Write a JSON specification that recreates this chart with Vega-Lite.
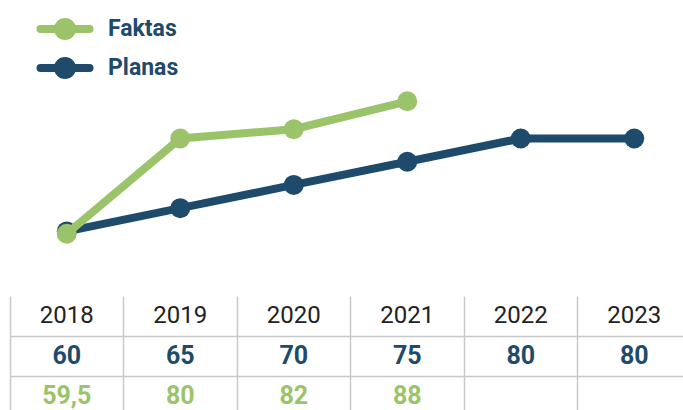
{
  "$schema": "https://vega.github.io/schema/vega-lite/v6.json",
  "padding": {"left": 10, "top": 0, "right": 0, "bottom": 0},
  "spacing": 0,
  "config": {"view": {"stroke": null}, "font": "Roboto"},
  "datasets": {
    "lines": [
      {"year": "2018", "series": "Planas", "value": 60},
      {"year": "2019", "series": "Planas", "value": 65},
      {"year": "2020", "series": "Planas", "value": 70},
      {"year": "2021", "series": "Planas", "value": 75},
      {"year": "2022", "series": "Planas", "value": 80},
      {"year": "2023", "series": "Planas", "value": 80},
      {"year": "2018", "series": "Faktas", "value": 59.5},
      {"year": "2019", "series": "Faktas", "value": 80},
      {"year": "2020", "series": "Faktas", "value": 82},
      {"year": "2021", "series": "Faktas", "value": 88}
    ],
    "table": [
      {"year": "2018", "row": "Metai", "label": "2018"},
      {"year": "2019", "row": "Metai", "label": "2019"},
      {"year": "2020", "row": "Metai", "label": "2020"},
      {"year": "2021", "row": "Metai", "label": "2021"},
      {"year": "2022", "row": "Metai", "label": "2022"},
      {"year": "2023", "row": "Metai", "label": "2023"},
      {"year": "2018", "row": "Planas", "label": "60"},
      {"year": "2019", "row": "Planas", "label": "65"},
      {"year": "2020", "row": "Planas", "label": "70"},
      {"year": "2021", "row": "Planas", "label": "75"},
      {"year": "2022", "row": "Planas", "label": "80"},
      {"year": "2023", "row": "Planas", "label": "80"},
      {"year": "2018", "row": "Faktas", "label": "59,5"},
      {"year": "2019", "row": "Faktas", "label": "80"},
      {"year": "2020", "row": "Faktas", "label": "82"},
      {"year": "2021", "row": "Faktas", "label": "88"}
    ]
  },
  "vconcat": [
    {
      "width": 681,
      "height": 296,
      "data": {"name": "lines"},
      "encoding": {
        "x": {"field": "year", "type": "ordinal", "scale": {"type": "point", "padding": 0.5, "domain": ["2018","2019","2020","2021","2022","2023"]}, "axis": null},
        "y": {"field": "value", "type": "quantitative", "scale": {"domain": [46.1, 109.8], "zero": false, "nice": false}, "axis": null},
        "color": {
          "field": "series", "type": "nominal",
          "scale": {"domain": ["Faktas", "Planas"], "range": ["#9bc46a", "#1e4a6b"]},
          "legend": {
            "title": null,
            "orient": "none",
            "legendX": 40,
            "legendY": 14,
            "padding": 0,
            "rowPadding": -9,
            "symbolType": "M-2.23,0H2.23M0.64,0A0.64,0.64 0 1,1 -0.64,0A0.64,0.64 0 1,1 0.64,0Z",
            "symbolSize": 484,
            "symbolStrokeWidth": 8,
            "labelOffset": 28,
            "labelFont": "Roboto",
            "labelFontWeight": "bold",
            "labelFontSize": 23,
            "labelColor": "#1e4a6b",
            "labelLimit": 300,
            "encode": {
              "symbols": {
                "update": {
                  "fill": {"scale": "color", "field": "value"},
                  "stroke": {"scale": "color", "field": "value"},
                  "strokeWidth": {"value": 8},
                  "strokeCap": {"value": "round"},
                  "opacity": {"value": 1}
                }
              }
            }
          }
        }
      },
      "layer": [
        {"transform": [{"filter": "datum.series === 'Planas'"}], "mark": {"type": "line", "strokeWidth": 8}},
        {"transform": [{"filter": "datum.series === 'Planas'"}], "mark": {"type": "point", "filled": true, "opacity": 1, "size": 400, "shape": "circle"}},
        {"transform": [{"filter": "datum.series === 'Faktas'"}], "mark": {"type": "line", "strokeWidth": 8}},
        {"transform": [{"filter": "datum.series === 'Faktas'"}], "mark": {"type": "point", "filled": true, "opacity": 1, "size": 400, "shape": "circle"}}
      ]
    },
    {
      "width": 681,
      "height": 120,
      "data": {"name": "table"},
      "encoding": {
        "x": {"field": "year", "type": "ordinal", "scale": {"type": "band", "paddingInner": 0, "paddingOuter": 0, "domain": ["2018","2019","2020","2021","2022","2023"]},
              "axis": {"labels": false, "ticks": false, "domain": false, "title": null, "grid": true, "bandPosition": 0, "gridColor": "#c8c8c8", "gridWidth": 1.5}},
        "y": {"field": "row", "type": "ordinal", "scale": {"type": "band", "paddingInner": 0, "paddingOuter": 0, "domain": ["Metai", "Planas", "Faktas"]},
              "axis": {"labels": false, "ticks": false, "domain": false, "title": null, "grid": true, "bandPosition": 0, "values": ["Planas", "Faktas"], "gridColor": "#c8c8c8", "gridWidth": 1.5}},
        "text": {"field": "label", "type": "nominal"},
        "color": {"field": "row", "type": "nominal", "scale": {"domain": ["Metai", "Planas", "Faktas"], "range": ["#222222", "#1e4a6b", "#9bc46a"]}, "legend": null}
      },
      "layer": [
        {"transform": [{"filter": "datum.row === 'Metai'"}], "mark": {"type": "text", "font": "Roboto", "fontSize": 24, "fontWeight": "normal", "baseline": "middle"}},
        {"transform": [{"filter": "datum.row !== 'Metai'"}], "mark": {"type": "text", "font": "Roboto", "fontSize": 25, "fontWeight": "bold", "baseline": "middle"}}
      ]
    }
  ],
  "resolve": {"scale": {"color": "independent", "x": "independent", "y": "independent"}, "legend": {"color": "independent"}}
}
